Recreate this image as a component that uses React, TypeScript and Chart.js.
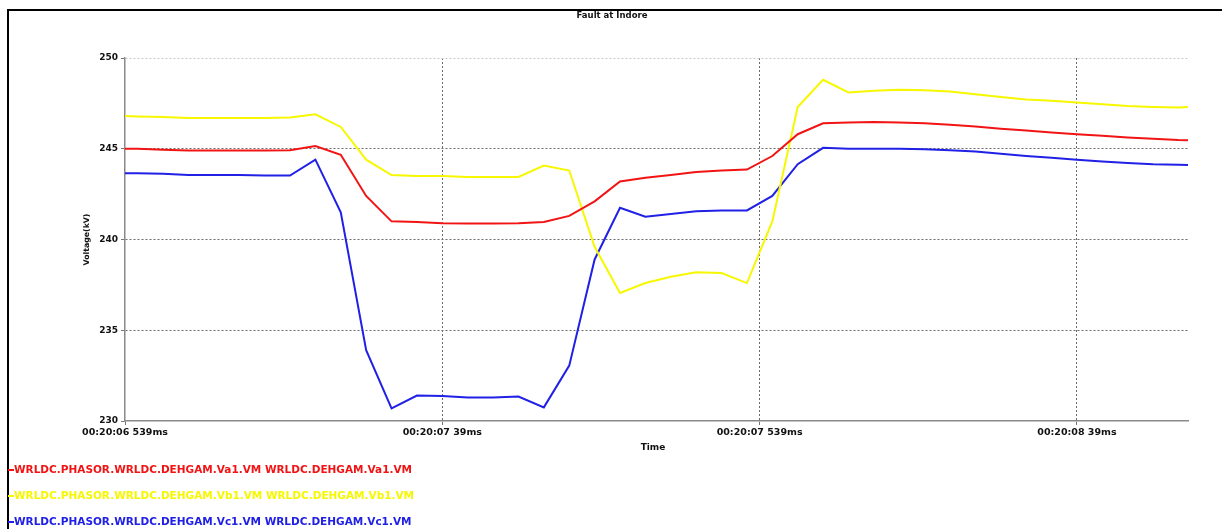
import React, { useEffect, useRef } from "react";
import { Chart, registerables } from "chart.js";

Chart.register(...registerables);

const chartTitle = "Fault at Indore";
const xAxisTitle = "Time";
const yAxisTitle = "Voltage(kV)";

// time offset in ms from 00:20:06 539ms
const times = [
  0, 20, 60, 100, 140, 180, 220, 260, 300, 340, 380, 420, 460, 500, 540, 580, 620, 660, 700, 740, 780, 820,
  860, 900, 940, 980, 1020, 1060, 1100, 1140, 1180, 1220, 1260, 1300, 1340, 1380, 1420, 1460, 1500, 1540,
  1580, 1620, 1660, 1675,
];

const seriesVa = [
  245.0, 245.0, 244.95, 244.9, 244.9, 244.9, 244.9, 244.92, 245.15, 244.67, 242.4, 241.0, 240.97, 240.9,
  240.88, 240.88, 240.9, 240.96, 241.3, 242.1, 243.2, 243.4, 243.55, 243.72, 243.8, 243.85, 244.6, 245.8,
  246.4, 246.45, 246.48, 246.45, 246.4, 246.32, 246.22, 246.1, 246.0, 245.9, 245.8, 245.72, 245.62, 245.55,
  245.48, 245.47,
];

const seriesVb = [
  246.8, 246.78, 246.75, 246.7, 246.7, 246.7, 246.7, 246.72, 246.9, 246.2, 244.4, 243.55, 243.5, 243.5,
  243.45, 243.45, 243.45, 244.07, 243.8, 239.6, 237.05, 237.6, 237.95, 238.2, 238.15, 237.6, 241.0, 247.3,
  248.8, 248.1, 248.2, 248.25, 248.22, 248.15, 248.0, 247.85, 247.72, 247.65, 247.55, 247.45, 247.35, 247.3,
  247.27, 247.3,
];

const seriesVc = [
  243.65, 243.65, 243.62, 243.55, 243.55, 243.55, 243.52, 243.52, 244.4, 241.5, 233.9, 230.7, 231.4, 231.38,
  231.3, 231.3, 231.35, 230.75, 233.05, 238.9, 241.75, 241.25, 241.4, 241.55, 241.6, 241.6, 242.4, 244.15,
  245.05, 245.0, 245.0, 245.0, 244.97, 244.92, 244.85, 244.72, 244.6, 244.5, 244.4, 244.3, 244.22, 244.15,
  244.12, 244.1,
];

const seriesNames = [
  "WRLDC.PHASOR.WRLDC.DEHGAM.Va1.VM WRLDC.DEHGAM.Va1.VM",
  "WRLDC.PHASOR.WRLDC.DEHGAM.Vb1.VM WRLDC.DEHGAM.Vb1.VM",
  "WRLDC.PHASOR.WRLDC.DEHGAM.Vc1.VM WRLDC.DEHGAM.Vc1.VM",
];
const seriesColors = ["#f21414", "#f7f700", "#2020e6"];

const xTickValues = [0, 500, 1000, 1500];
const xTickLabels = ["00:20:06 539ms", "00:20:07 39ms", "00:20:07 539ms", "00:20:08 39ms"];
const xMax = 1675;
const yMin = 230;
const yMax = 250;
const yStep = 5;

const FONT = '"DejaVu Sans", sans-serif';

const decorPlugin = {
  id: "decor",
  beforeDraw(chart: any) {
    const { ctx, width, height } = chart;
    ctx.save();
    ctx.fillStyle = "#ffffff";
    ctx.fillRect(0, 0, width, height);
    ctx.restore();
  },
  afterDraw(chart: any) {
    const { ctx, chartArea } = chart;
    ctx.save();
    // outer frame
    ctx.strokeStyle = "#000";
    ctx.lineWidth = 2;
    ctx.strokeRect(8, 10, 1240, 560);
    // title
    ctx.fillStyle = "#111";
    ctx.font = `bold 8.5px ${FONT}`;
    ctx.textAlign = "center";
    ctx.textBaseline = "middle";
    ctx.fillText(chartTitle, 612, 16);
    // x axis title
    ctx.font = `bold 9px ${FONT}`;
    ctx.fillText(xAxisTitle, 653, 448);
    // y axis title
    ctx.save();
    ctx.translate(87, (chartArea.top + chartArea.bottom) / 2);
    ctx.rotate(-Math.PI / 2);
    ctx.font = `bold 7.8px ${FONT}`;
    ctx.fillText(yAxisTitle, 0, 0);
    ctx.restore();
    // legend
    const ys = [470, 496, 522];
    ctx.textAlign = "left";
    ctx.font = `bold 10.5px ${FONT}`;
    seriesNames.forEach((name, i) => {
      ctx.strokeStyle = seriesColors[i];
      ctx.lineWidth = 2;
      ctx.beginPath();
      ctx.moveTo(8, ys[i]);
      ctx.lineTo(14, ys[i]);
      ctx.stroke();
      ctx.fillStyle = seriesColors[i];
      ctx.fillText(name, 14, ys[i]);
    });
    ctx.restore();
  },
};

export default function App() {
  const canvasRef = useRef<HTMLCanvasElement | null>(null);

  useEffect(() => {
    const canvas = canvasRef.current;
    if (!canvas) return;
    const datasets = [seriesVa, seriesVb, seriesVc].map((vals, i) => ({
      label: seriesNames[i],
      data: vals.map((v, j) => ({ x: times[j], y: v })),
      borderColor: seriesColors[i],
      backgroundColor: seriesColors[i],
      borderWidth: 2,
      pointRadius: 0,
      tension: 0,
      fill: false,
    }));
    const chart = new Chart(canvas, {
      type: "line",
      data: { datasets },
      plugins: [decorPlugin],
      options: {
        responsive: false,
        animation: false,
        devicePixelRatio: 1,
        layout: { padding: { left: 0, top: 58, right: 34, bottom: 78 } },
        plugins: {
          legend: { display: false },
          title: { display: false },
          tooltip: { enabled: false },
        },
        scales: {
          x: {
            type: "linear",
            min: 0,
            max: xMax,
            afterBuildTicks: (scale: any) => {
              scale.ticks = xTickValues.map((v) => ({ value: v }));
            },
            afterFit: (scale: any) => {
              scale.height = 30;
            },
            ticks: {
              autoSkip: false,
              maxRotation: 0,
              padding: 2,
              color: "#111",
              font: { family: FONT, size: 9.5, weight: "bold" },
              callback: (value: any) => {
                const idx = xTickValues.indexOf(Number(value));
                return idx >= 0 ? xTickLabels[idx] : "";
              },
            },
            grid: {
              color: (ctx: any) => (ctx.tick && ctx.tick.value === 0 ? "rgba(0,0,0,0)" : "#6a6a6a"),
              lineWidth: 1,
              tickLength: 4,
              tickColor: "#777",
            },
            border: { display: true, color: "#8a8a8a", width: 1.5, dash: [2, 2] },
          },
          y: {
            type: "linear",
            min: yMin,
            max: yMax,
            afterFit: (scale: any) => {
              scale.width = 125;
            },
            ticks: {
              stepSize: yStep,
              padding: 3,
              color: "#111",
              font: { family: FONT, size: 9, weight: "bold" },
            },
            grid: {
              color: (ctx: any) => {
                const v = ctx.tick ? ctx.tick.value : 0;
                if (v === yMin) return "rgba(0,0,0,0)";
                if (v === yMax) return "#c8c8c8";
                return "#6a6a6a";
              },
              lineWidth: 1,
              tickLength: 4,
              tickColor: "#777",
            },
            border: { display: true, color: "#8a8a8a", width: 1.5, dash: [2, 2] },
          },
        },
      } as any,
    });
    return () => chart.destroy();
  }, []);

  return (
    <div style={{ position: "absolute", left: 0, top: 0, width: 1222, height: 529, background: "#fff" }}>
      <canvas ref={canvasRef} width={1222} height={529} style={{ display: "block", width: 1222, height: 529 }} />
    </div>
  );
}
